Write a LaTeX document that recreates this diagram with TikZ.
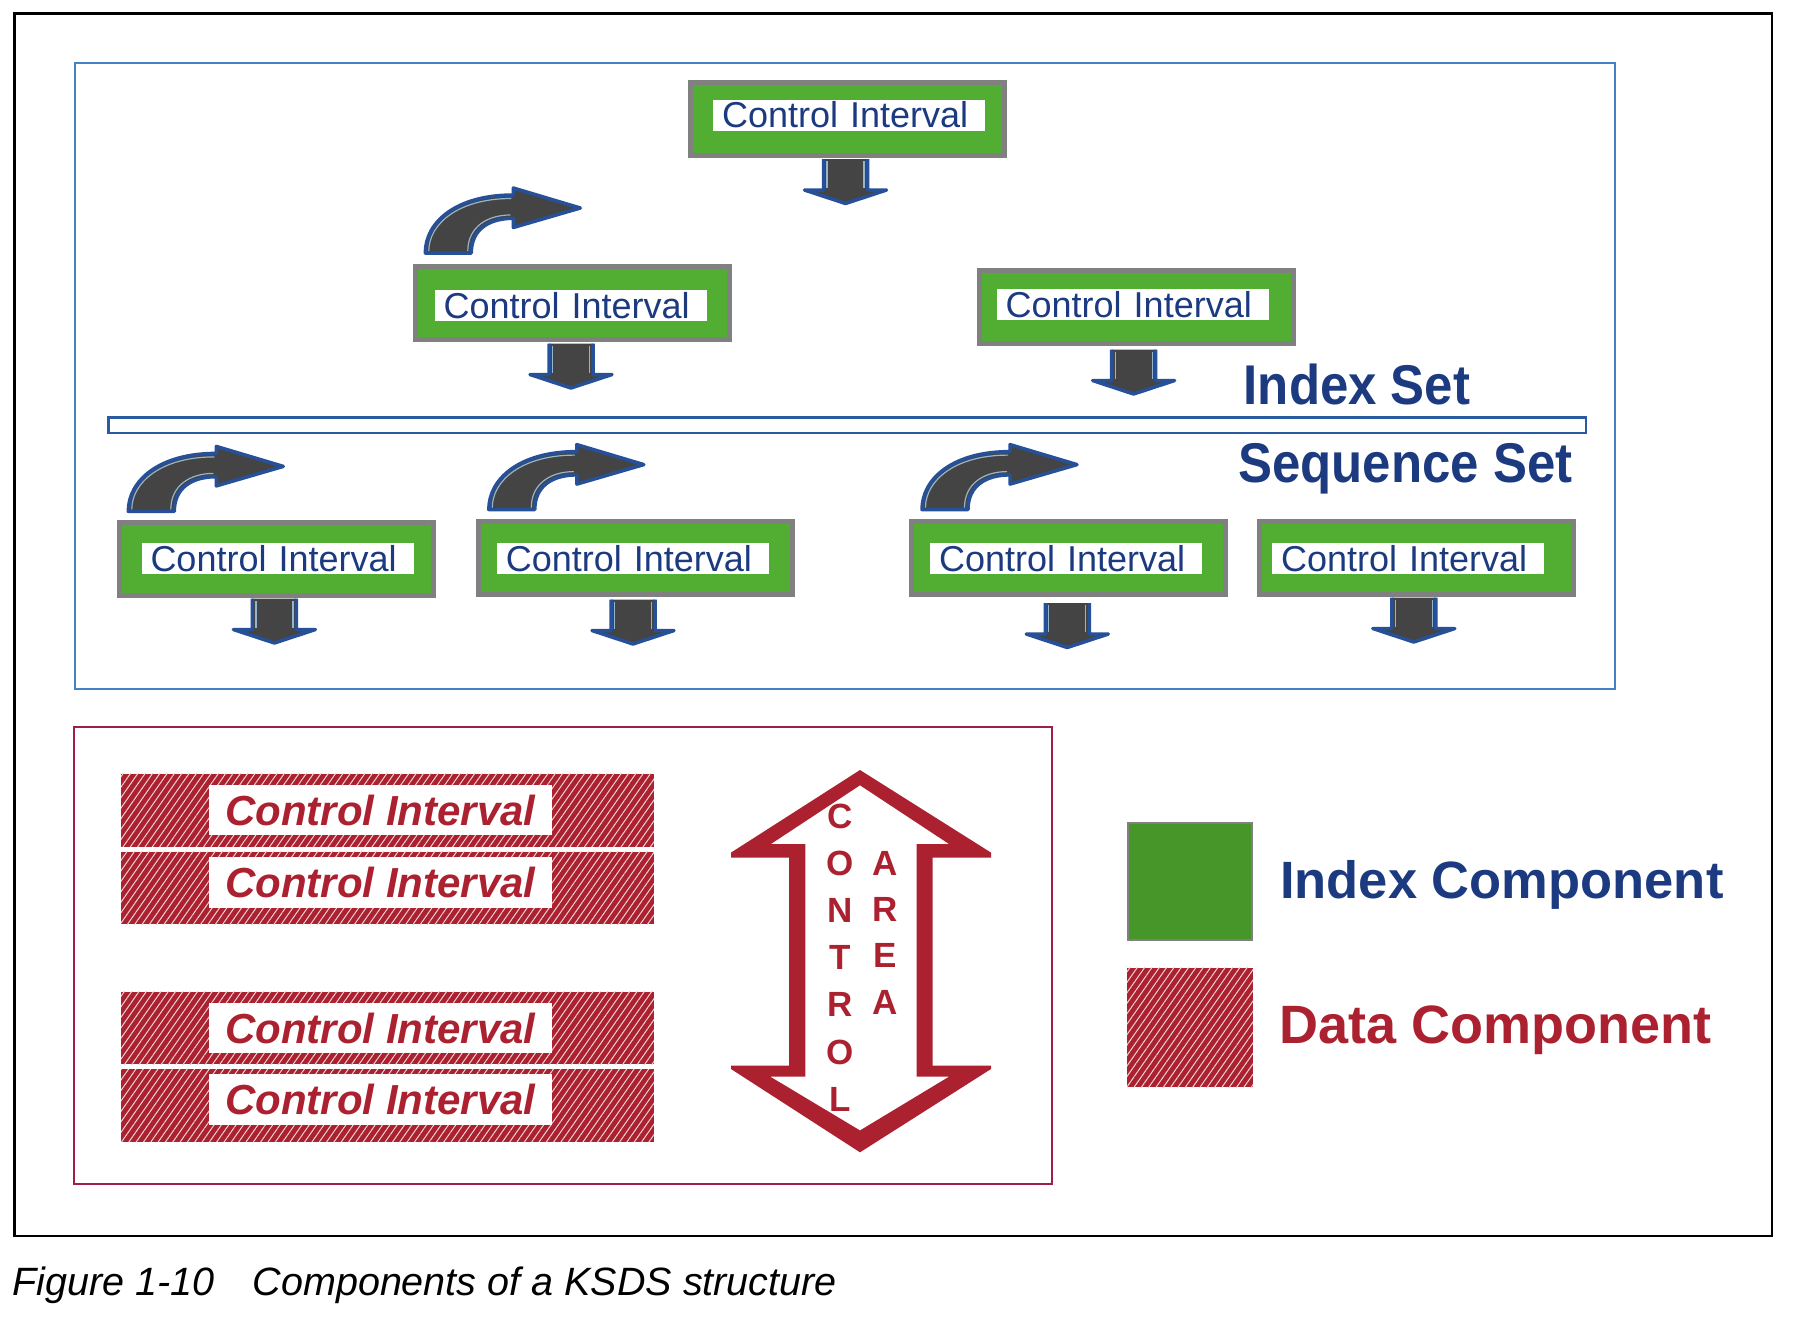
\documentclass[tikz,border=0pt]{standalone}
\usepackage{fontspec}
\usepackage{graphicx}
\setmainfont{Liberation Sans}
\usetikzlibrary{patterns.meta}
\definecolor{ciGreen}{RGB}{82,174,51}
\definecolor{legGreen}{RGB}{70,150,42}
\definecolor{ciGray}{RGB}{128,128,128}
\definecolor{navy}{RGB}{28,58,128}
\definecolor{boxBlue}{RGB}{70,128,198}
\definecolor{sepBlue}{RGB}{42,90,160}
\definecolor{arrBlue}{RGB}{38,80,152}
\definecolor{arrLight}{RGB}{150,180,205}
\definecolor{darkFill}{RGB}{68,68,68}
\definecolor{dRed}{RGB}{172,33,48}
\definecolor{maroonLine}{RGB}{160,30,78}
\begin{document}
\begin{tikzpicture}[x=1pt,y=-1pt,
  cibox/.style={draw=ciGray,line width=5pt,fill=ciGreen,minimum width=314pt,minimum height=73pt,inner sep=0pt},
  cilabel/.style={fill=white,inner xsep=9pt,inner ysep=0pt,text width=254pt,align=left,minimum height=31pt,text=navy,font=\fontsize{36}{36}\selectfont},
  hatchfill/.style={preaction={fill=dRed},pattern={Lines[angle=55,distance=6pt,line width=1pt]},pattern color=white!80!dRed},
  hbar/.style={hatchfill,minimum width=533pt,minimum height=72.6pt,inner sep=0pt},
  dlabel/.style={fill=white,minimum width=343pt,minimum height=50.5pt,inner sep=0pt,text=dRed,font=\fontsize{42}{42}\selectfont\bfseries\itshape},
  caletter/.style={text=dRed,font=\fontsize{35}{35}\selectfont\bfseries,inner sep=0pt},
  downarr/.pic={
    \fill[darkFill] (-22,0) -- (-22,31) -- (-41,31) -- (0,44.5) -- (41,31) -- (22,31) -- (22,0) -- cycle;
    \draw[arrBlue,line width=3.5pt,line join=round] (-22,0) -- (-22,31) -- (-41,31) -- (0,44.5) -- (41,31) -- (22,31) -- (22,0);
    \draw[arrLight,line width=1.2pt] (-18.5,2) -- (-18.5,29) (18.5,2) -- (18.5,29);
  },
  curvarr/.pic={
    \path[fill=darkFill,draw=arrBlue,line width=3.5pt,line join=round]
      (2,-2) .. controls (2,-33) and (33,-60) .. (90,-60) -- (90,-67) -- (157,-47) -- (90,-27.5) -- (90,-36.7)
      .. controls (66,-36.7) and (48,-26) .. (48,-2) -- cycle;
    \draw[arrLight,line width=1.2pt] (5.5,-4) .. controls (5.5,-31) and (35,-56.5) .. (88,-56.5);
    \draw[arrLight,line width=1.2pt] (87,-40) .. controls (64,-40) and (44.5,-28) .. (44.5,-4);
  }
]
\useasboundingbox (0,0) rectangle (1802,1326);
% outer frame
\draw[line width=2.5pt] (14.4,13.4) rectangle (1772,1236);
% index/sequence frame
\draw[boxBlue,line width=2pt] (75.2,63.4) rectangle (1614.6,689);
\draw[sepBlue,line width=2.5pt] (108.5,417.4) rectangle (1585.8,433);

% index component boxes
\node[cibox] (ci0) at (847,119.2) {};
\node[cilabel] (ci0l) at (849,115) {Control Interval};
\node[cibox] (ci1) at (572.9,302.9) {};
\node[cilabel] (ci1l) at (570.6,305.5) {Control Interval};
\node[cibox] (ci2) at (1136.2,307) {};
\node[cilabel] (ci2l) at (1132.7,304.6) {Control Interval};
\node[cibox] (s1) at (276.7,559.1) {};
\node[cilabel] (s1l) at (277.5,558.6) {Control Interval};
\node[cibox] (s2) at (635.8,558) {};
\node[cilabel] (s2l) at (632.9,558.7) {Control Interval};
\node[cibox] (s3) at (1068.9,557.6) {};
\node[cilabel] (s3l) at (1066,558.7) {Control Interval};
\node[cibox] (s4) at (1416.4,557.5) {};
\node[cilabel] (s4l) at (1408,558.7) {Control Interval};

% down arrows
\pic at (845.5,159) {downarr};
\pic at (571,343.5) {downarr};
\pic at (1133.6,349.5) {downarr};
\pic at (274.4,598.5) {downarr};
\pic at (633,599.5) {downarr};
\pic at (1067.3,603) {downarr};
\pic at (1413.8,597.5) {downarr};

% curved arrows
\pic at (423.3,255) {curvarr};
\pic at (126.3,513.4) {curvarr};
\pic at (486.8,511.6) {curvarr};
\pic at (920,511.6) {curvarr};

% set titles
\node[anchor=base west,inner sep=0pt,text=navy,font=\fontsize{56}{56}\selectfont\bfseries] (idxset) at (1243.5,404) {\scalebox{0.91}[1]{Index Set}};
\node[anchor=base west,inner sep=0pt,text=navy,font=\fontsize{56}{56}\selectfont\bfseries] (seqset) at (1238,482) {\scalebox{0.91}[1]{Sequence Set}};

% data component frame
\draw[maroonLine,line width=2pt] (73.7,727) rectangle (1052.3,1183.8);
\node[hbar] (b1) at (387.25,810.2) {};
\node[dlabel] (b1l) at (380.5,810) {Control Interval};
\node[hbar] (b2) at (387.25,888) {};
\node[dlabel] (b2l) at (380.5,882.3) {Control Interval};
\node[hbar] (b3) at (387.25,1028.1) {};
\node[dlabel] (b3l) at (380.5,1028) {Control Interval};
\node[hbar] (b4) at (387.25,1105.4) {};
\node[dlabel] (b4l) at (380.5,1099.7) {Control Interval};

% control area double arrow
\fill[dRed,even odd rule]
  (860,770) -- (731,852.6) -- (731,857.6) -- (789,857.6) -- (789,1065.7) -- (731,1065.7) -- (731,1069)
  -- (860,1152.3) -- (991,1069) -- (991,1065.7) -- (932.5,1065.7) -- (932.5,857.6) -- (991,857.6) -- (991,852.6) -- cycle
  (860,785.3) -- (770.6,844.2) -- (805.3,844.2) -- (805.3,1076.5) -- (770,1076.5) -- (860,1130.4)
  -- (949.3,1076.5) -- (916.6,1076.5) -- (916.6,844.2) -- (949.3,844.2) -- cycle;
\node[caletter] (c1) at (839.7,816) {C};
\node[caletter] (c2) at (839.7,863.2) {O};
\node[caletter] (c3) at (839.7,910.4) {N};
\node[caletter] (c4) at (839.7,957.6) {T};
\node[caletter] (c5) at (839.7,1004.8) {R};
\node[caletter] (c6) at (839.7,1052) {O};
\node[caletter] (c7) at (839.7,1099.2) {L};
\node[caletter] (a1) at (885.3,863) {A};
\node[caletter] (a2) at (885.3,909) {R};
\node[caletter] (a3) at (885.3,955.5) {E};
\node[caletter] (a4) at (885.3,1002) {A};

% legend
\node[draw=ciGray,line width=2pt,fill=legGreen,minimum width=124pt,minimum height=117.6pt,inner sep=0pt] (legidx) at (1190,881.5) {};
\node[hatchfill,minimum width=126pt,minimum height=119.6pt,inner sep=0pt] (legdat) at (1190,1027.5) {};
\node[anchor=base west,inner sep=0pt,text=navy,font=\fontsize{52.5}{54}\selectfont\bfseries] (legidxt) at (1280,898) {Index Component};
\node[anchor=base west,inner sep=0pt,text=dRed,font=\fontsize{54}{54}\selectfont\bfseries] (legdatt) at (1279,1043.3) {Data Component};

% caption
\node[anchor=base west,inner sep=0pt,font=\fontsize{39.5}{40}\selectfont\itshape] (cap) at (12.6,1295) {Figure 1-10\hspace{38pt}Components of a KSDS structure};
\end{tikzpicture}
\end{document}
